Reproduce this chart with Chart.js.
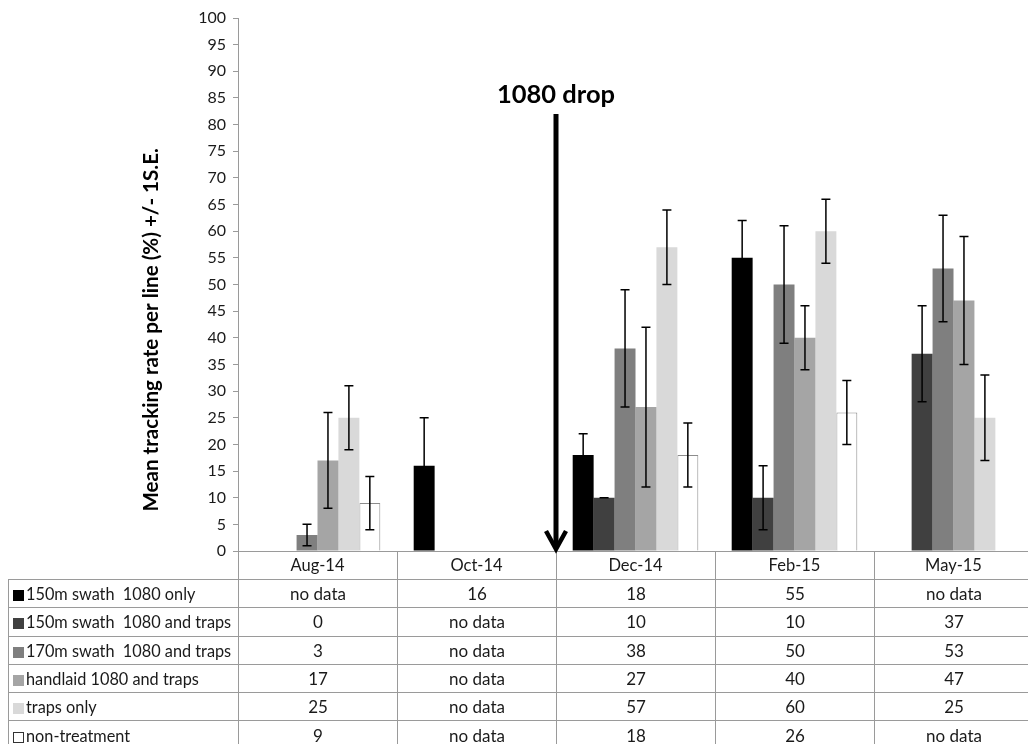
<!DOCTYPE html>
<html>
<head>
<meta charset="utf-8">
<script src="https://cdn.jsdelivr.net/npm/chart.js@4.4.1/dist/chart.umd.min.js"></script>
<style>
  html, body { margin: 0; padding: 0; background: #fff; overflow: hidden; width: 1028px; height: 744px; }
  #wrap { position: relative; width: 1034px; height: 744px; }
  #c { position: absolute; left: 0; top: 0; }
  #tbl { position: absolute; border-collapse: collapse; font-family: Lato, "Open Sans", sans-serif; font-size: 17px; color: #1a1a1a; table-layout: fixed; }
  #tbl td { border: 1px solid #9a9a9a; padding: 0; text-align: center; white-space: pre; overflow: hidden; box-sizing: border-box; }
  #tbl td.lab { text-align: left; padding-left: 4px; font-size: 16.3px; }
  .key { display: inline-block; width: 11px; height: 11px; margin-right: 2px; vertical-align: -1px; box-sizing: border-box; }
</style>
</head>
<body>
<div id="wrap">
  <canvas id="c" width="1034" height="744"></canvas>
  <table id="tbl"></table>
</div>
<script>
// Sampling periods
const categories = ['Aug-14', 'Oct-14', 'Dec-14', 'Feb-15', 'May-15'];

// Treatment names
const seriesNames = [
  '150m swath  1080 only',
  '150m swath  1080 and traps',
  '170m swath  1080 and traps',
  'handlaid 1080 and traps',
  'traps only',
  'non-treatment'
];

// Mean tracking rate (%) per treatment, null = no data
const only150 = [null, 16, 18, 55, null];
const traps150 = [0, null, 10, 10, 37];
const swath170 = [3, null, 38, 50, 53];
const handlaid = [17, null, 27, 40, 47];
const trapsOnly = [25, null, 57, 60, 25];
const nonTreatment = [9, null, 18, 26, null];

// One standard error per mean
const only150SE = [null, 9, 4, 7, null];
const traps150SE = [null, null, 0, 6, 9];
const swath170SE = [2, null, 11, 11, 10];
const handlaidSE = [9, null, 15, 6, 12];
const trapsOnlySE = [6, null, 7, 6, 8];
const nonTreatmentSE = [5, null, 6, 6, null];

const yTitle = 'Mean tracking rate per line (%) +/- 1S.E.';

const seriesValues = [only150, traps150, swath170, handlaid, trapsOnly, nonTreatment];
const seriesSE = [only150SE, traps150SE, swath170SE, handlaidSE, trapsOnlySE, nonTreatmentSE];
const fills = ['#000000', '#404040', '#7f7f7f', '#a5a5a5', '#d9d9d9', '#ffffff'];
const edges = ['#000000', '#404040', '#7f7f7f', '#a5a5a5', '#d9d9d9', '#8c8c8c'];

const FONT = 'Lato, "Open Sans", sans-serif';

// Whisker lines for +/- 1 S.E.
const errorBars = {
  id: 'errorBars',
  afterDatasetsDraw(chart) {
    const ctx = chart.ctx;
    const y = chart.scales.y;
    ctx.save();
    ctx.strokeStyle = '#000';
    ctx.lineWidth = 1.5;
    chart.data.datasets.forEach((ds, i) => {
      const meta = chart.getDatasetMeta(i);
      ds.data.forEach((v, j) => {
        const se = ds.se[j];
        if (v === null || se === null) return;
        const x = meta.data[j].x;
        const top = y.getPixelForValue(v + se);
        const bot = y.getPixelForValue(Math.max(0, v - se));
        ctx.beginPath();
        ctx.moveTo(x, top); ctx.lineTo(x, bot);
        ctx.moveTo(x - 4.5, top); ctx.lineTo(x + 4.5, top);
        ctx.moveTo(x - 4.5, bot); ctx.lineTo(x + 4.5, bot);
        ctx.stroke();
      });
    });
    ctx.restore();
  }
};

// Rotated y-axis title, set a little below the axis middle
const yAxisTitle = {
  id: 'yAxisTitle',
  afterDraw(chart) {
    const ctx = chart.ctx;
    const ys = chart.scales.y;
    ctx.save();
    ctx.translate(151, ys.getPixelForValue(41.5));
    ctx.rotate(-Math.PI / 2);
    ctx.fillStyle = '#000';
    ctx.font = 'bold 20.6px ' + FONT;
    ctx.textAlign = 'center';
    ctx.textBaseline = 'middle';
    ctx.fillText(yTitle, 0, 0);
    ctx.restore();
  }
};

// "1080 drop" arrow between Oct-14 and Dec-14
const dropArrow = {
  id: 'dropArrow',
  afterDraw(chart) {
    const ctx = chart.ctx;
    const xs = chart.scales.x, ys = chart.scales.y;
    const x = (xs.getPixelForValue(1) + xs.getPixelForValue(2)) / 2;
    const top = ys.getPixelForValue(82);
    const tip = ys.getPixelForValue(0) - 2;
    ctx.save();
    ctx.strokeStyle = '#000';
    ctx.lineWidth = 5;
    ctx.beginPath();
    ctx.moveTo(x, top); ctx.lineTo(x, tip - 2);
    ctx.stroke();
    ctx.lineWidth = 4.5;
    ctx.lineJoin = 'miter';
    ctx.beginPath();
    ctx.moveTo(x - 10, tip - 18);
    ctx.lineTo(x, tip);
    ctx.lineTo(x + 10, tip - 18);
    ctx.stroke();
    ctx.fillStyle = '#000';
    ctx.font = 'bold 25.5px ' + FONT;
    ctx.textAlign = 'center';
    ctx.textBaseline = 'middle';
    ctx.fillText('1080 drop', x, ys.getPixelForValue(85.6));
    ctx.restore();
  }
};

const chart = new Chart(document.getElementById('c'), {
  type: 'bar',
  data: {
    labels: categories,
    datasets: seriesNames.map((name, i) => ({
      label: name,
      data: seriesValues[i],
      se: seriesSE[i],
      backgroundColor: fills[i],
      borderColor: edges[i],
      borderWidth: i === 5 ? 1 : 0,
      categoryPercentage: 0.79,
      barPercentage: 1.0
    }))
  },
  options: {
    responsive: false,
    animation: false,
    layout: { padding: { left: 135, top: 18, right: 1, bottom: 165 } },
    plugins: { legend: { display: false }, tooltip: { enabled: false } },
    scales: {
      x: {
        grid: { offset: true, drawOnChartArea: false, drawTicks: true, tickLength: 28, color: '#9a9a9a' },
        border: { color: '#9a9a9a' },
        ticks: { font: { family: FONT, size: 16.5 }, color: '#1a1a1a', padding: -23 },
        afterFit(s) { s.height = 28; }
      },
      y: {
        min: 0, max: 100,
        ticks: { stepSize: 5, font: { family: FONT, size: 16 }, color: '#1a1a1a', padding: 7 },
        grid: { drawOnChartArea: false, drawTicks: true, tickLength: 5, color: '#9a9a9a' },
        border: { color: '#9a9a9a' },
        afterFit(s) { s.width = 103; }
      }
    }
  },
  plugins: [errorBars, yAxisTitle, dropArrow]
});

// Data table under the axis, columns aligned to the category bands
(function buildTable() {
  const xs = chart.scales.x;
  const band = xs.getPixelForValue(1) - xs.getPixelForValue(0);
  const left0 = xs.getPixelForValue(0) - band / 2;
  const tbl = document.getElementById('tbl');
  const tableLeft = 8;
  tbl.style.left = tableLeft + 'px';
  tbl.style.top = (chart.chartArea.bottom + 28) + 'px';
  const cg = document.createElement('colgroup');
  const c0 = document.createElement('col');
  c0.style.width = (left0 - tableLeft) + 'px';
  cg.appendChild(c0);
  categories.forEach(() => {
    const c = document.createElement('col');
    c.style.width = band + 'px';
    cg.appendChild(c);
  });
  tbl.appendChild(cg);
  tbl.style.width = (left0 - tableLeft + band * categories.length) + 'px';
  seriesNames.forEach((name, i) => {
    const tr = document.createElement('tr');
    tr.style.height = '28.3px';
    const th = document.createElement('td');
    th.className = 'lab';
    const key = document.createElement('span');
    key.className = 'key';
    key.style.background = fills[i];
    if (i === 5) key.style.border = '1px solid #333';
    th.appendChild(key);
    th.appendChild(document.createTextNode(name));
    tr.appendChild(th);
    seriesValues[i].forEach(v => {
      const td = document.createElement('td');
      td.textContent = v === null ? 'no data' : String(v);
      tr.appendChild(td);
    });
    tbl.appendChild(tr);
  });
})();
</script>
</body>
</html>
